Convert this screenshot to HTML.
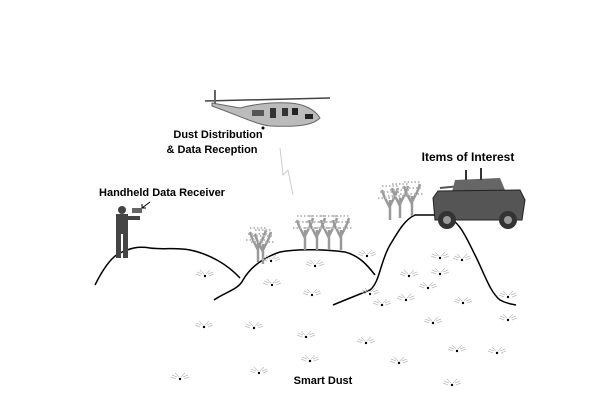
<!DOCTYPE html>
<html><head><style>
body{margin:0;background:#fff;width:615px;height:400px;overflow:hidden}
text{font-family:"Liberation Sans",Arial,sans-serif;font-size:11px;fill:#000;font-weight:bold}
</style></head><body>
<svg width="615" height="400" viewBox="0 0 615 400">
<defs>
<g id="d"><circle cx="0" cy="0" r="1.2" fill="#000"/><path d="M-8,-4 L-3,-2 M8,-4 L3,-2 M-5,-6 L-1,-2 M5,-6 L1,-2 M-9,-2 L-4,0 M9,-2 L4,0" stroke="#bbb" stroke-width="0.7" fill="none"/></g>
<g id="b" fill="none"><path d="M0,0 L0,-20 M0,-12 L-6,-24 M0,-14 L6,-26 M-6,-24 L-8,-30 M6,-26 L8,-32" stroke="#999" stroke-width="2.5"/><path d="M-10,-28 L10,-28 M-8,-34 L8,-34 M-12,-22 L12,-22" stroke="#bbb" stroke-width="2" stroke-dasharray="1.5 2"/></g>
</defs>
<g fill="none" stroke="#000" stroke-width="1.5">
<path d="M95,285 C100,275 108,260 118,254 C130,248 138,246 150,248 C165,250 175,247 190,250 C210,254 228,265 240,278"/>
<path d="M214,300 C225,292 238,290 243,280 C250,268 262,258 280,252 C300,248 330,250 345,252 C360,256 368,266 375,275"/>
<path d="M333,305 C345,300 355,296 370,290 C380,282 380,262 390,245 C398,232 404,220 415,215 L445,215 C460,222 465,235 475,255 C485,275 490,292 500,300 C507,304 512,304 516,305"/>
</g>
<g transform="translate(258,262)"><use href="#b"/><use href="#b" transform="translate(5,2)"/></g>
<g transform="translate(305,250)"><use href="#b"/><use href="#b" transform="translate(12,0)"/><use href="#b" transform="translate(24,0)"/><use href="#b" transform="translate(36,0)"/></g>
<g transform="translate(390,220)"><use href="#b"/><use href="#b" transform="translate(10,-2)"/><use href="#b" transform="translate(22,-4)"/></g>
<g>
<use href="#d" x="205" y="276"/><use href="#d" x="271" y="261"/><use href="#d" x="315" y="266"/><use href="#d" x="272" y="285"/><use href="#d" x="312" y="295"/><use href="#d" x="370" y="294"/><use href="#d" x="440" y="258"/><use href="#d" x="440" y="274"/><use href="#d" x="428" y="288"/><use href="#d" x="406" y="300"/><use href="#d" x="462" y="260"/><use href="#d" x="367" y="256"/><use href="#d" x="409" y="276"/><use href="#d" x="382" y="305"/><use href="#d" x="463" y="303"/><use href="#d" x="508" y="297"/><use href="#d" x="508" y="320"/><use href="#d" x="204" y="327"/><use href="#d" x="254" y="328"/><use href="#d" x="306" y="337"/><use href="#d" x="433" y="323"/><use href="#d" x="366" y="343"/><use href="#d" x="457" y="351"/><use href="#d" x="497" y="353"/><use href="#d" x="310" y="361"/><use href="#d" x="399" y="363"/><use href="#d" x="180" y="379"/><use href="#d" x="259" y="373"/><use href="#d" x="452" y="385"/>
</g>
<g>
<line x1="205" y1="101" x2="330" y2="98" stroke="#444" stroke-width="1.5"/>
<line x1="215" y1="90" x2="215" y2="106" stroke="#666" stroke-width="2"/>
<path d="M212,103 L240,108 C255,104 270,102 290,103 C305,104 315,110 320,118 C312,126 295,127 270,126 C255,124 240,116 212,106 Z" fill="#bbb" stroke="#666"/>
<rect x="252" y="110" width="12" height="6" fill="#555"/><rect x="270" y="108" width="6" height="10" fill="#333"/><rect x="282" y="108" width="6" height="8" fill="#333"/><rect x="292" y="108" width="6" height="7" fill="#222"/><rect x="305" y="114" width="8" height="5" fill="#222"/>
<circle cx="263" cy="128" r="1.5" fill="#000"/>
</g>
<path d="M280,148 L283,175 L288,170 L293,195" stroke="#ccc" fill="none" stroke-width="1"/>
<g fill="#444">
<circle cx="122" cy="210" r="4"/>
<rect x="116" y="214" width="12" height="20"/>
<rect x="116" y="234" width="5" height="24"/><rect x="123" y="234" width="5" height="24"/>
<rect x="126" y="216" width="14" height="4"/>
<rect x="132" y="208" width="10" height="5" fill="#666"/>
</g>
<path d="M150,202 L142,208 M142,208 L142,204 M142,208 L146,208" stroke="#000" fill="none"/>
<g>
<line x1="440" y1="188" x2="470" y2="185" stroke="#555" stroke-width="2"/>
<path d="M455,180 L500,178 L505,190 L452,192 Z" fill="#666"/>
<rect x="465" y="170" width="2" height="10" fill="#333"/><rect x="480" y="168" width="2" height="12" fill="#333"/>
<path d="M433,198 L438,191 L520,190 L525,200 L522,220 L435,220 Z" fill="#555" stroke="#222"/>
<circle cx="447" cy="220" r="9" fill="#333"/><circle cx="447" cy="220" r="4" fill="#999"/>
<circle cx="508" cy="220" r="9" fill="#333"/><circle cx="508" cy="220" r="4" fill="#999"/>
</g>
<text x="218" y="138" text-anchor="middle">Dust Distribution</text>
<text x="212" y="153" text-anchor="middle">&amp; Data Reception</text>
<text x="468" y="161" text-anchor="middle" style="font-size:12px">Items of Interest</text>
<text x="162" y="196" text-anchor="middle">Handheld Data Receiver</text>
<text x="323" y="384" text-anchor="middle">Smart Dust</text>
</svg>
</body></html>
